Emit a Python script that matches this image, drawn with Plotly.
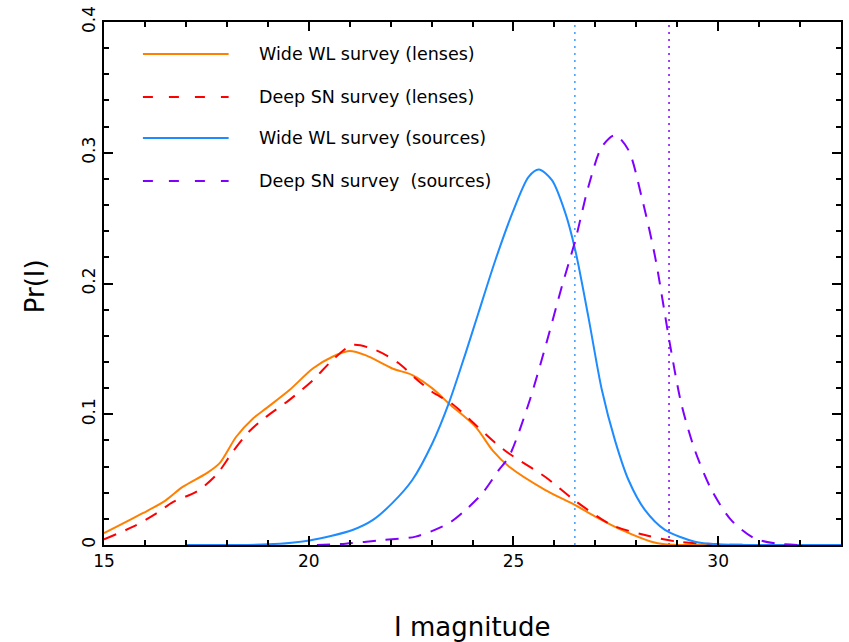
import plotly.graph_objects as go

# ---------------- data ----------------
wide_lens_x = [15.0, 15.96, 16.5, 16.93, 17.5, 17.82, 18.23, 18.64, 18.96, 19.53, 20.1, 20.58, 20.99,
               21.4, 22.04, 22.53, 23.02, 23.42, 24.07, 24.5, 24.89, 25.78, 26.5, 27.0, 27.64, 28.37,
               28.7, 29.0, 30.0, 33.0]
wide_lens_y = [0.009, 0.0245, 0.034, 0.0446, 0.0548, 0.0624, 0.0828, 0.0968, 0.1045, 0.1185, 0.135,
               0.144, 0.1483, 0.145, 0.135, 0.130, 0.1198, 0.1083, 0.0905, 0.072, 0.06, 0.042, 0.0306,
               0.0217, 0.0115, 0.0025, 0.0005, 0.0, 0.0, 0.0]

deep_lens_x = [15.0, 15.71, 16.28, 16.69, 17.26, 17.74, 18.15, 18.55, 18.96, 19.53, 20.1, 20.58, 21.07,
               21.64, 22.2, 22.61, 23.02, 23.5, 24.07, 24.56, 24.89, 25.78, 26.5, 27.4, 28.21, 29.02,
               30.0, 31.0, 33.0]
deep_lens_y = [0.0043, 0.014, 0.0242, 0.033, 0.0408, 0.0535, 0.0715, 0.087, 0.098, 0.111, 0.126, 0.1414,
               0.153, 0.149, 0.139, 0.1274, 0.117, 0.108, 0.092, 0.078, 0.070, 0.052, 0.034, 0.0153,
               0.0076, 0.0025, 0.0005, 0.0, 0.0]

wide_src_x = [17.0, 19.0, 20.02, 21.07, 21.56, 22.04, 22.53, 23.02, 23.42, 23.83, 24.15, 24.56, 24.97,
              25.37, 25.62, 25.94, 26.27, 26.51, 26.83, 27.16, 27.48, 27.81, 28.21, 28.7, 29.43, 30.0,
              31.0, 33.0]
wide_src_y = [0.0, 0.0005, 0.0035, 0.0115, 0.019, 0.032, 0.0497, 0.0778, 0.1083, 0.1466, 0.178, 0.218,
              0.2536, 0.2816, 0.2872, 0.279, 0.2536, 0.2255, 0.1745, 0.1185, 0.08, 0.0497, 0.0268,
              0.0115, 0.0025, 0.0005, 0.0, 0.0]

deep_src_x = [20.2, 20.9, 21.8, 22.61, 23.42, 23.83, 24.24, 24.64, 24.89, 25.37, 25.78, 26.18, 26.51,
              26.83, 27.16, 27.48, 27.81, 28.13, 28.46, 28.82, 29.1, 29.43, 29.84, 30.32, 30.89, 31.46,
              32.0]
deep_src_y = [0.0, 0.001, 0.0038, 0.0064, 0.0166, 0.0268, 0.0395, 0.0573, 0.0675, 0.108, 0.1516, 0.1975,
              0.233, 0.274, 0.3045, 0.3135, 0.302, 0.2663, 0.2204, 0.154, 0.108, 0.0726, 0.042, 0.019,
              0.005, 0.001, 0.0]

limit_x = [26.5, 28.8]
limit_colors = ["#3d9bff", "#8000ff"]

series_names = ["Wide WL survey (lenses)", "Deep SN survey (lenses)",
                "Wide WL survey (sources)", "Deep SN survey  (sources)"]
series_colors = ["#ff8000", "#ff0000", "#1e8cff", "#8000ff"]
series_dash = ["solid", "13px,10px", "solid", "13px,10px"]

x_tickvals = [15, 20, 25, 30]
y_tickvals = [0, 0.1, 0.2, 0.3, 0.4]

# ---------------- figure ----------------
fig = go.Figure()
all_x = [wide_lens_x, deep_lens_x, wide_src_x, deep_src_x]
all_y = [wide_lens_y, deep_lens_y, wide_src_y, deep_src_y]
for xs, ys, name, col, dash in zip(all_x, all_y, series_names, series_colors, series_dash):
    fig.add_trace(go.Scatter(x=xs, y=ys, mode="lines", name=name,
                             line=dict(color=col, width=2, dash=dash, shape="spline", smoothing=0.8),
                             showlegend=False, hoverinfo="skip"))

for xv, col in zip(limit_x, limit_colors):
    fig.add_shape(type="line", xref="x", yref="paper", x0=xv, x1=xv, y0=0, y1=1,
                  line=dict(color=col, width=1.5, dash="2px,5px"), layer="below")

# legend drawn manually
leg_rows = [0.9388, 0.8566, 0.7782, 0.696]
for yy, name, col, dash in zip(leg_rows, series_names, series_colors, series_dash):
    fig.add_shape(type="line", xref="paper", yref="paper", x0=0.0528, x1=0.1691, y0=yy, y1=yy,
                  line=dict(color=col, width=2, dash="10px,16px" if dash != "solid" else "solid"))
    fig.add_annotation(x=0.207, y=yy, xref="paper", yref="paper", text=name, showarrow=False,
                       xanchor="left", yanchor="middle",
                       font=dict(family="DejaVu Sans", size=17.5, color="black"))

fig.add_annotation(x=0.5, y=-0.157, xref="paper", yref="paper", text="I magnitude", showarrow=False,
                   xanchor="center", yanchor="middle", font=dict(family="DejaVu Sans", size=26, color="black"))
fig.add_annotation(x=-0.0934, y=0.495, xref="paper", yref="paper", text="Pr(I)", showarrow=False,
                   textangle=-90, xanchor="center", yanchor="middle",
                   font=dict(family="DejaVu Sans", size=26, color="black"))

axis_common = dict(showline=True, linecolor="black", linewidth=2, mirror="ticks", ticks="inside",
                   tickcolor="black", tickwidth=2, ticklen=9, showgrid=False, zeroline=False,
                   tickfont=dict(family="DejaVu Sans", size=17, color="black"))
fig.update_xaxes(range=[15, 33], tickvals=x_tickvals,
                 minor=dict(dtick=1, tick0=15, ticks="inside", ticklen=5, tickcolor="black", tickwidth=2),
                 **axis_common)
fig.update_yaxes(range=[0, 0.4], tickvals=y_tickvals, tickangle=-90,
                 minor=dict(dtick=0.02, tick0=0, ticks="inside", ticklen=5, tickcolor="black", tickwidth=2),
                 **axis_common)

fig.update_layout(width=849, height=642, margin=dict(l=104, r=6, t=22, b=97),
                  plot_bgcolor="white", paper_bgcolor="white", showlegend=False)

fig.write_html("out.html")
